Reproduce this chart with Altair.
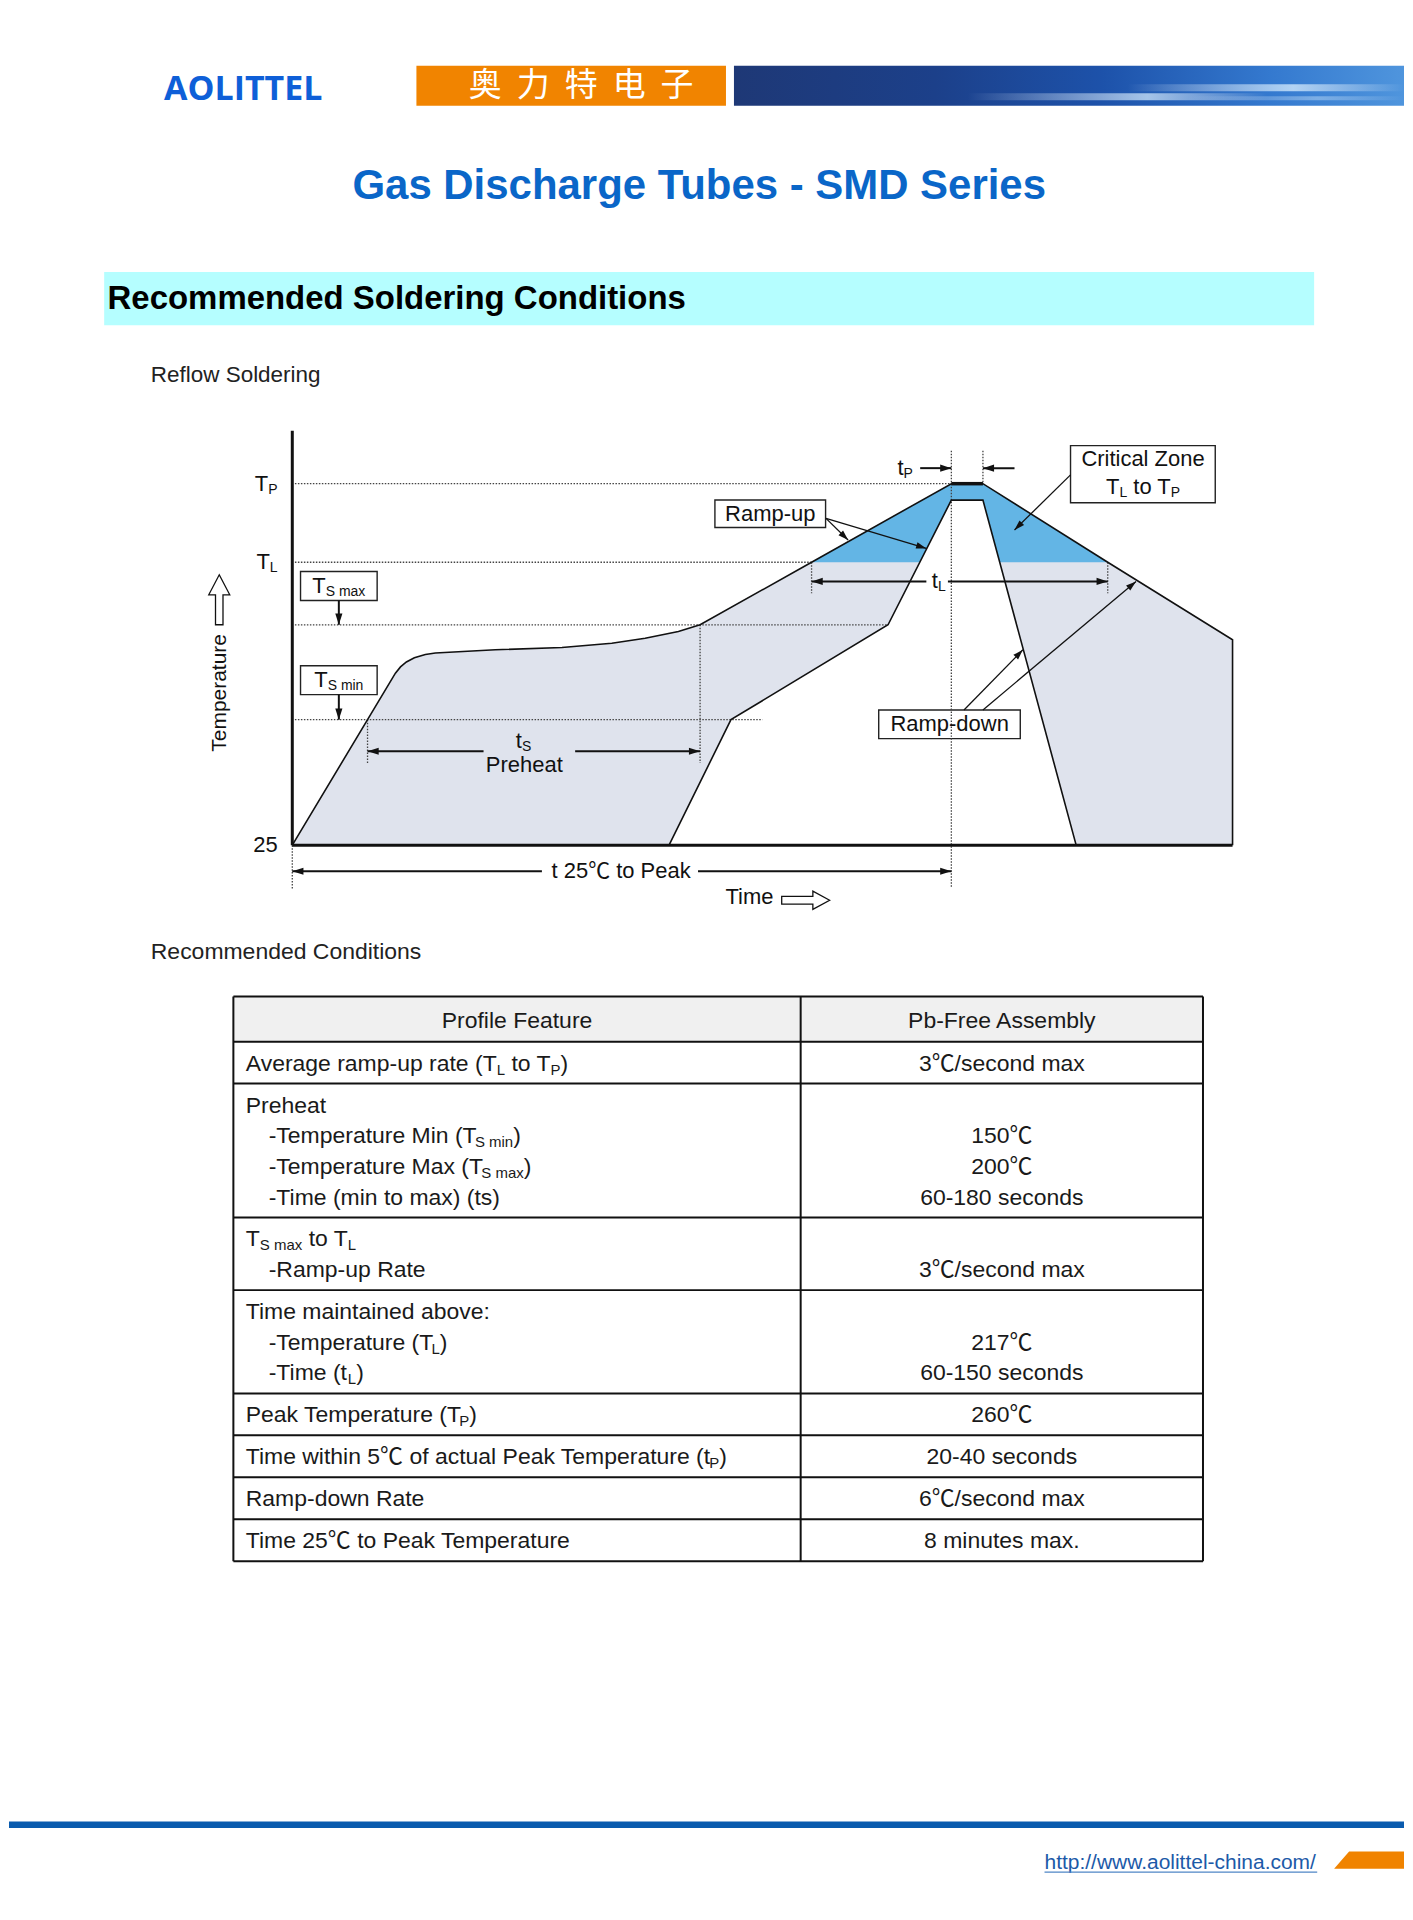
import re
import math
import altair as alt
import pandas as pd

# ------------------------------------------------------------------ data
BRAND = "AOLITTEL"
BRAND_CN = ["奥", "力", "特", "电", "子"]
TITLE = "Gas Discharge Tubes - SMD Series"
SECTION = "Recommended Soldering Conditions"
SUBTITLE_1 = "Reflow Soldering"
SUBTITLE_2 = "Recommended Conditions"
URL = "http://www.aolittel-china.com/"

# reflow profile: time (s, schematic) and temperature (deg C)
TEMP_LEVELS = [25, 150, 200, 217, 260]          # 25, TS min, TS max, TL, TP
OUTER_TIME = [0, 75.1, 78.8, 83.1, 88.9, 96.9, 104.2, 147.9, 196.4, 232.7, 257.0,
              281.2, 297.0, 378.2, 480.0, 503.0, 593.9, 684.8, 684.8]
OUTER_TEMP = [25, 174.5, 177.8, 180.4, 182.6, 184.3, 185.1, 186.8, 188.0, 190.3, 192.9,
              196.5, 200, 217, 260, 260, 217, 192.1, 25]
INNER_TIME = [274.4, 319.5, 433.9, 480.0, 503.0, 570.9]
INNER_TEMP = [25, 150, 200, 251, 251, 25]
PEAK_TIME = [480.0, 503.0]
AXIS_TOP_TEMP = 289
GUIDE_TEMP = [260, 217, 200, 150]
GUIDE_END = [480.0, 378.2, 433.9, 342.4]
VGUIDE_TIME = [54.8, 297.0, 378.2, 593.9, 480.0, 503.0, 0.0]
VGUIDE_FROM = [150, 200, 217, 217, 278, 278, 25]
VGUIDE_TO = [106.8, 106.8, 208.6, 208.6, -17.5, 260, -19]

# arrows: (t_from, T_from, t_tip, T_tip)
MEASURE_ARROWS = [(139.3, 118.5, 54.8, 118.5), (206.0, 118.5, 297.0, 118.5),
                  (461.8, 211.8, 378.2, 211.8), (477.5, 211.8, 593.9, 211.8),
                  (457.3, 268.5, 480.0, 268.5), (526.0, 268.5, 503.0, 268.5),
                  (181.8, -1.0, 0.0, -1.0), (295.5, -1.0, 480.0, -1.0),
                  (33.9, 206.6, 33.9, 200.0), (33.9, 163.2, 33.9, 150.0)]
POINTER_ARROWS = [(388.7, 241.0, 404.8, 229.2), (388.7, 241.0, 461.8, 224.6),
                  (566.8, 264.8, 526.0, 234.7), (489.2, 155.1, 532.1, 186.8),
                  (503.0, 155.1, 614.5, 211.8)]
# boxes: (t1, t2, T1, T2)
BOXES = [(307.8, 388.4, 251.1, 236.0), (566.8, 672.2, 280.8, 249.6),
         (427.1, 530.2, 155.05, 131.1), (6.0, 61.8, 214.5, 206.6), (6.0, 61.8, 178.4, 163.2)]
DIAG_LABELS = [
    ("T_{P}", -10.7, 260, "right"), ("T_{L}", -10.7, 217, "right"), ("25", -10.7, 25, "right"),
    ("T_{S max}", 33.9, 210.5, "center"), ("T_{S min}", 33.9, 170.7, "center"),
    ("t_{S}", 168.4, 128.4, "center"), ("Preheat", 169.0, 104.6, "center"),
    ("Ramp-up", 348.1, 243.6, "center"), ("t_{P}", 446.4, 268.5, "center"),
    ("t_{L}", 470.8, 212.0, "center"), ("Critical Zone", 619.6, 273.5, "center"),
    ("T_{L} to T_{P}", 619.6, 258.4, "center"), ("Ramp-down", 478.8, 145.3, "center"),
    ("t 25℃ to Peak", 239.5, -1.0, "center"), ("Time", 333.3, -26.7, "center"),
]
Y_TITLE = ("Temperature", -52.7, 164.1)
UP_ARROW_AT = (-53.2, 206.8)
RIGHT_ARROW_AT = (373.9, -29.9)

TABLE_HEAD = ["Profile Feature", "Pb-Free Assembly"]
TABLE_LEFT = [
    ["Average ramp-up rate (T_{L} to T_{P})"],
    ["Preheat", "-Temperature Min (T_{S min})", "-Temperature Max (T_{S max})", "-Time (min to max) (ts)"],
    ["T_{S max} to T_{L}", "-Ramp-up Rate"],
    ["Time maintained above:", "-Temperature (T_{L})", "-Time (t_{L})"],
    ["Peak Temperature (T_{P})"],
    ["Time within 5℃ of actual Peak Temperature (t_{P})"],
    ["Ramp-down Rate"],
    ["Time 25℃ to Peak Temperature"],
]
TABLE_RIGHT = [
    ["3℃/second max"],
    ["", "150℃", "200℃", "60-180 seconds"],
    ["", "3℃/second max"],
    ["", "217℃", "60-150 seconds"],
    ["260℃"],
    ["20-40 seconds"],
    ["6℃/second max"],
    ["8 minutes max."],
]

# ------------------------------------------------------------------ layout / style
W = 1397
HA, HB, HC = 982, 590, 328          # page sections (page y offsets 8, 990, 1580)
FONT = "Liberation Sans, Arial, Noto Sans CJK SC, sans-serif"
CJK = "Noto Sans CJK SC"
LIGHT = "#dfe3ed"
BLUE = "#63b5e5"
INK = "#111111"

X_DOMAIN = [0, 480]
X_RANGE = [283.7, 943.7]
Y_RANGE = [836, 710.3, 615.3, 552.7, 474]
PX_PER_T = (X_RANGE[1] - X_RANGE[0]) / (X_DOMAIN[1] - X_DOMAIN[0])

_W = {}
for chars, w in [(" !,./:;Ift", 278), ("ijl", 222), ("()-r", 333), ("Jcksvxyz", 500),
                 ("0123456789abdeghnopquL", 556), ("FTZ", 611), ("ABEKPSVXY", 667),
                 ("CDHNRUw", 722), ("GOQ", 778), ("Mm", 833), ("W", 944), ("℃", 1000)]:
    for c in chars:
        _W[c] = w
_KERN = {("T", "e"): -190, ("T", "a"): -190, ("T", "o"): -190, ("T", "s"): -190,
         ("A", "v"): -20, (" ", "T"): -20}


def text_width(s, fs):
    w = sum(_W.get(c, 556) for c in s)
    w += sum(_KERN.get((a, b), 0) for a, b in zip(s, s[1:]))
    return w / 1000.0 * fs


def rich_segments(markup, fs, sfs):
    parts = re.split(r"(_\{[^}]*\})", markup)
    segs, off = [], 0.0
    for p in parts:
        if not p:
            continue
        if p.startswith("_{"):
            txt, size, sub = p[2:-1], sfs, True
        else:
            txt, size, sub = p, fs, False
        lead = len(txt) - len(txt.lstrip(" "))
        core = txt.strip(" ")
        if core:
            segs.append({"off": off + text_width(" " * lead, size), "text": core, "sub": sub})
        off += text_width(txt, size)
    return segs, off


def sx(t):
    return X_RANGE[0] + (t - X_DOMAIN[0]) * PX_PER_T


def sy(T):
    d, r = TEMP_LEVELS, Y_RANGE
    i = 0
    while i < len(d) - 2 and T > d[i + 1]:
        i += 1
    return r[i] + (T - d[i]) * (r[i + 1] - r[i]) / (d[i + 1] - d[i])


SX = alt.Scale(domain=X_DOMAIN, range=X_RANGE, nice=False, zero=False)
SY = alt.Scale(domain=TEMP_LEVELS, range=Y_RANGE, nice=False, zero=False)


def X(f):
    return alt.X(f, type="quantitative", scale=SX, axis=None)


def Y(f):
    return alt.Y(f, type="quantitative", scale=SY, axis=None)


ONE = pd.DataFrame({"k": [0]})

# ------------------------------------------------------------------ chart A: header + diagram
base = TEMP_LEVELS[0]
tl = TEMP_LEVELS[3]
outer = pd.DataFrame({"t": OUTER_TIME, "T": OUTER_TEMP, "seq": range(len(OUTER_TIME))})
outer["base"] = base
outer["tl"] = tl
outer["Tc"] = outer["T"].clip(lower=tl)
inner = pd.DataFrame({"t": INNER_TIME, "T": INNER_TEMP, "seq": range(len(INNER_TIME))})
inner["base"] = base
outer_fill = outer.iloc[:-1]

light = alt.Chart(outer_fill).mark_area(color=LIGHT, opacity=1).encode(
    x=X("t"), y=Y("T"), y2=alt.Y2("base"))
blue = alt.Chart(outer_fill).mark_area(color=BLUE, opacity=1).encode(
    x=X("t"), y=Y("Tc"), y2=alt.Y2("tl"))
tent = alt.Chart(inner).mark_area(color="white", opacity=1).encode(
    x=X("t"), y=Y("T"), y2=alt.Y2("base"))

boxes = pd.DataFrame(BOXES, columns=["t1", "t2", "T1", "T2"])
box_layer = alt.Chart(boxes).mark_rect(fill="white", stroke="#222", strokeWidth=1.4).encode(
    x=X("t1"), x2=alt.X2("t2"), y=Y("T1"), y2=alt.Y2("T2"))

hg = pd.DataFrame({"t1": [1.9] * len(GUIDE_TEMP), "t2": GUIDE_END, "T": GUIDE_TEMP})
hguide = alt.Chart(hg).mark_rule(color="#444", strokeWidth=1.3, strokeDash=[1.5, 1.5]).encode(
    x=X("t1"), x2=alt.X2("t2"), y=Y("T"))
vg = pd.DataFrame({"t": VGUIDE_TIME, "T1": VGUIDE_FROM, "T2": VGUIDE_TO})
vguide = alt.Chart(vg).mark_rule(color="#444", strokeWidth=1.3, strokeDash=[1.5, 1.5]).encode(
    x=X("t"), y=Y("T1"), y2=alt.Y2("T2"))

outer_line = alt.Chart(outer).mark_line(color=INK, strokeWidth=1.6).encode(
    x=X("t"), y=Y("T"), order=alt.Order("seq"))
inner_line = alt.Chart(inner).mark_line(color=INK, strokeWidth=1.6).encode(
    x=X("t"), y=Y("T"), order=alt.Order("seq"))

axes = pd.DataFrame({"t1": [0, 0], "t2": [0, OUTER_TIME[-1]], "T1": [base, base],
                     "T2": [AXIS_TOP_TEMP, base]})
axis_layer = alt.Chart(axes).mark_rule(color=INK, strokeWidth=3).encode(
    x=X("t1"), x2=alt.X2("t2"), y=Y("T1"), y2=alt.Y2("T2"))
peak = pd.DataFrame({"t1": [PEAK_TIME[0]], "t2": [PEAK_TIME[1]], "T": [TEMP_LEVELS[-1]]})
peak_layer = alt.Chart(peak).mark_rule(color=INK, strokeWidth=3.5).encode(
    x=X("t1"), x2=alt.X2("t2"), y=Y("T"))


def arrow_frame(arrows, head):
    rows = []
    for (t1, T1, t2, T2) in arrows:
        dx, dy = sx(t2) - sx(t1), sy(T2) - sy(T1)
        ang = math.degrees(math.atan2(dx, -dy)) % 360
        rows.append({"t1": t1, "T1": T1, "t2": t2, "T2": T2, "ang": ang, "hs": head})
    return pd.DataFrame(rows)


HEAD = "M0,0L0.32,1L-0.32,1Z"
ma = arrow_frame(MEASURE_ARROWS, 500)
pa = arrow_frame(POINTER_ARROWS, 420)
arrows_all = pd.concat([ma, pa], ignore_index=True)
shaft_m = alt.Chart(ma).mark_rule(color=INK, strokeWidth=2.0).encode(
    x=X("t1"), x2=alt.X2("t2"), y=Y("T1"), y2=alt.Y2("T2"))
shaft_p = alt.Chart(pa).mark_rule(color=INK, strokeWidth=1.3).encode(
    x=X("t1"), x2=alt.X2("t2"), y=Y("T1"), y2=alt.Y2("T2"))
heads = alt.Chart(arrows_all).mark_point(shape=HEAD, filled=True, color=INK, opacity=1,
                                         strokeWidth=0).encode(
    x=X("t2"), y=Y("T2"), angle=alt.Angle("ang:Q", scale=None), size=alt.Size("hs:Q", scale=None))

DFS, DSFS = 22, 14
lab_rows = []
for markup, t, T, align in DIAG_LABELS:
    segs, total = rich_segments(markup, DFS, DSFS)
    start = {"left": 0.0, "center": -total / 2.0, "right": -total}[align]
    for s in segs:
        lab_rows.append({"t": t + (start + s["off"]) / PX_PER_T, "T": T, "text": s["text"],
                         "sub": s["sub"]})
labs = pd.DataFrame(lab_rows)
lab_main = alt.Chart(labs[~labs["sub"]]).mark_text(
    align="left", baseline="middle", font=FONT, fontSize=DFS, color=INK).encode(
    x=X("t"), y=Y("T"), text="text:N")
lab_sub = alt.Chart(labs[labs["sub"]]).mark_text(
    align="left", baseline="middle", font=FONT, fontSize=DSFS, dy=6, color=INK).encode(
    x=X("t"), y=Y("T"), text="text:N")

ytitle = alt.Chart(pd.DataFrame([{"t": Y_TITLE[1], "T": Y_TITLE[2], "text": Y_TITLE[0]}])).mark_text(
    align="center", baseline="middle", angle=270, font=FONT, fontSize=21, color=INK).encode(
    x=X("t"), y=Y("T"), text="text:N")

UP_PATH = "M0,-1L0.42,-0.2L0.15,-0.2L0.15,1L-0.15,1L-0.15,-0.2L-0.42,-0.2Z"
RIGHT_PATH = "M1,0L0.3,-0.38L0.3,-0.16L-1,-0.16L-1,0.16L0.3,0.16L0.3,0.38Z"
up_arrow = alt.Chart(pd.DataFrame([{"t": UP_ARROW_AT[0], "T": UP_ARROW_AT[1]}])).mark_point(
    shape=UP_PATH, size=2500, filled=False, stroke=INK, strokeWidth=1.3, opacity=1).encode(
    x=X("t"), y=Y("T"))
right_arrow = alt.Chart(pd.DataFrame([{"t": RIGHT_ARROW_AT[0], "T": RIGHT_ARROW_AT[1]}])).mark_point(
    shape=RIGHT_PATH, size=2304, filled=False, stroke=INK, strokeWidth=1.3, opacity=1).encode(
    x=X("t"), y=Y("T"))


def vtext(txt, x, y, size, align="left", weight="normal", color=INK, font=FONT, baseline="alphabetic"):
    return alt.Chart(ONE).mark_text(align=align, baseline=baseline, font=font, fontSize=size,
                                    fontWeight=weight, color=color).encode(
        x=alt.value(x), y=alt.value(y), text=alt.value(txt))


def vrect(x1, x2, y1, y2, **kw):
    return alt.Chart(ONE).mark_rect(**kw).encode(
        x=alt.value(x1), x2=alt.value(x2), y=alt.value(y1), y2=alt.value(y2))


GRAD = {"gradient": "linear", "x1": 0, "x2": 1, "y1": 0, "y2": 0,
        "stops": [{"offset": 0, "color": "#1e3876"}, {"offset": 0.3, "color": "#1c408a"},
                  {"offset": 0.55, "color": "#1d52aa"}, {"offset": 0.8, "color": "#3479cf"},
                  {"offset": 1, "color": "#4f95dd"}]}


def streak(alpha):
    return {"gradient": "linear", "x1": 0, "x2": 1, "y1": 0, "y2": 0,
            "stops": [{"offset": 0, "color": "rgba(255,255,255,0)"},
                      {"offset": 0.6, "color": f"rgba(220,240,255,{alpha})"},
                      {"offset": 1, "color": "rgba(255,255,255,0)"}]}


header = [
    vtext(BRAND, 155.3, 89.3, 34, weight="bold", color="#0e5fd8", font="Open Sans, Liberation Sans"),
    vrect(408, 718, 55.5, 95.5, color="#f18400"),
    vrect(726, W, 55.5, 95.5, fill=GRAD),
    vrect(960, 1260, 83, 90, fill=streak(0.7)),
    vrect(1120, W, 74, 81, fill=streak(0.75)),
    vrect(1180, W, 86, 90, fill=streak(0.4)),
]
for i, ch in enumerate(BRAND_CN):
    header.append(vtext(ch, 477 + 48 * i, 76, 33, align="center", color="white", font=CJK,
                        baseline="middle"))
header += [
    vtext(TITLE, 691.2, 188.7, 42, align="center", weight="bold", color="#0a66c8"),
    vrect(95.3, 1307, 262, 315.3, color="#b5feff"),
    vtext(SECTION, 98.7, 298.7, 33, weight="bold", color="#000000"),
    vtext(SUBTITLE_1, 142, 372, 22.5, color="#222222"),
    vtext(SUBTITLE_2, 142, 950.3, 23, color="#222222"),
]

chart_a = alt.layer(
    light, blue, tent, box_layer, hguide, vguide, outer_line, inner_line, axis_layer, peak_layer,
    shaft_m, shaft_p, heads, lab_main, lab_sub, ytitle, up_arrow, right_arrow, *header
).properties(width=W, height=HA)

# ------------------------------------------------------------------ chart B: table
TX0, TXM, TX1 = 224.7, 792.8, 1195.7
TTOP = 5.5
HEAD_H = 45.3
PITCH = 30.7
TFS, TSFS = 23, 15
bounds = [TTOP, TTOP + HEAD_H]
for lines in TABLE_LEFT:
    bounds.append(bounds[-1] + 11.3 + PITCH * len(lines))

PXS = alt.Scale(domain=[0, W], range=[0, W], nice=False, zero=False)
PYS = alt.Scale(domain=[0, HB], range=[0, HB], nice=False, zero=False)


def PX(f):
    return alt.X(f, type="quantitative", scale=PXS, axis=None)


def PY(f):
    return alt.Y(f, type="quantitative", scale=PYS, axis=None)


hrow = pd.DataFrame({"x1": [TX0], "x2": [TX1], "y1": [bounds[0]], "y2": [bounds[1]]})
head_bg = alt.Chart(hrow).mark_rect(color="#f0f0f0").encode(
    x=PX("x1"), x2=alt.X2("x2"), y=PY("y1"), y2=alt.Y2("y2"))
hl = pd.DataFrame({"x1": TX0, "x2": TX1, "y": bounds})
vl = pd.DataFrame({"x": [TX0, TXM, TX1], "y1": bounds[0], "y2": bounds[-1]})
grid_h = alt.Chart(hl).mark_rule(color="#111", strokeWidth=2).encode(
    x=PX("x1"), x2=alt.X2("x2"), y=PY("y"))
grid_v = alt.Chart(vl).mark_rule(color="#111", strokeWidth=2).encode(
    x=PX("x"), y=PY("y1"), y2=alt.Y2("y2"))

left_rows, center_rows = [], []
hc = (bounds[0] + bounds[1]) / 2 + 2
center_rows.append({"x": (TX0 + TXM) / 2, "y": hc, "text": TABLE_HEAD[0]})
center_rows.append({"x": (TXM + TX1) / 2, "y": hc, "text": TABLE_HEAD[1]})
for r, (lines, rights) in enumerate(zip(TABLE_LEFT, TABLE_RIGHT)):
    top = bounds[r + 1]
    for i, line in enumerate(lines):
        yy = top + 22 + PITCH * i
        x0 = TX0 + 12.4 + (23 if line.startswith("-") else 0)
        segs, _ = rich_segments(line, TFS, TSFS)
        for s in segs:
            left_rows.append({"x": x0 + s["off"], "y": yy, "text": s["text"], "sub": s["sub"]})
    for i, line in enumerate(rights):
        if line:
            center_rows.append({"x": (TXM + TX1) / 2, "y": top + 22 + PITCH * i, "text": line})
ldf = pd.DataFrame(left_rows)
cdf = pd.DataFrame(center_rows)
t_main = alt.Chart(ldf[~ldf["sub"]]).mark_text(
    align="left", baseline="middle", font=FONT, fontSize=TFS, color="#1a1a1a").encode(
    x=PX("x"), y=PY("y"), text="text:N")
t_sub = alt.Chart(ldf[ldf["sub"]]).mark_text(
    align="left", baseline="middle", font=FONT, fontSize=TSFS, dy=6, color="#1a1a1a").encode(
    x=PX("x"), y=PY("y"), text="text:N")
t_center = alt.Chart(cdf).mark_text(
    align="center", baseline="middle", font=FONT, fontSize=TFS, color="#1a1a1a").encode(
    x=PX("x"), y=PY("y"), text="text:N")

chart_b = alt.layer(head_bg, grid_h, grid_v, t_main, t_sub, t_center).properties(width=W, height=HB)

# ------------------------------------------------------------------ chart C: footer
url_x = 1037
url_w = text_width(URL, 21)
TRAP = "M-0.571,-0.247L1,-0.247L1,0.247L-1,0.247Z"
footer = [
    vrect(0, W, 241.7, 248.3, color="#0a5bae"),
    vtext(URL, url_x, 289, 21, color="#1c5aa8"),
    alt.Chart(ONE).mark_rule(color="#4f86c6", strokeWidth=1.3).encode(
        x=alt.value(url_x), x2=alt.value(url_x + url_w), y=alt.value(292.5)),
    alt.Chart(ONE).mark_point(shape=TRAP, size=4900, filled=True, color="#f08300", opacity=1,
                              strokeWidth=0).encode(x=alt.value(1362), y=alt.value(280.4)),
]
chart_c = alt.layer(*footer).properties(width=W, height=HC)

chart = alt.vconcat(chart_a, chart_b, chart_c, spacing=0, bounds="flush").properties(
    padding=0).configure_view(stroke="transparent")

chart.save("out.html", embed_options={"renderer": "svg", "actions": False})
